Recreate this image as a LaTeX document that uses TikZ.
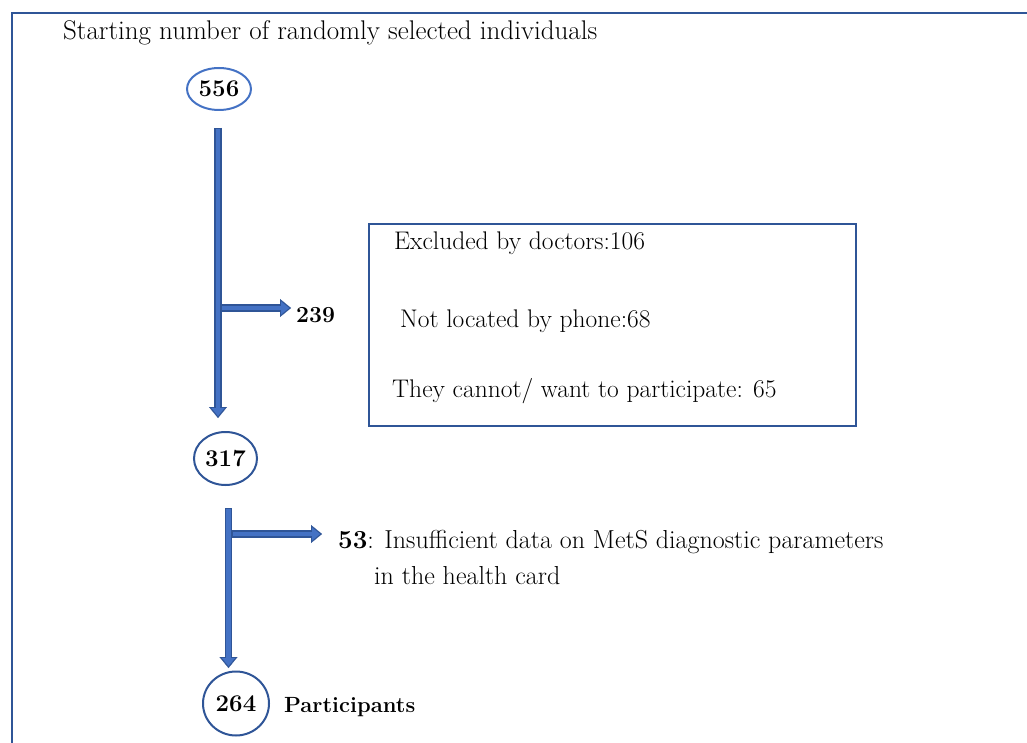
\documentclass[tikz,border=0pt]{standalone}
\usetikzlibrary{shapes.geometric,arrows.meta}
\definecolor{edgeblue}{RGB}{47,85,151}
\definecolor{lightblue}{RGB}{68,114,196}
\tikzset{
  ell/.style={ellipse, line width=2pt, inner sep=0pt, font=\fontsize{24}{28}\selectfont\bfseries},
  txt/.style={anchor=base west, inner sep=0pt},
  frame/.style={draw=edgeblue, line width=2pt},
  arrowout/.style={draw=edgeblue, line width=7.5pt, -{Triangle[width=18pt,length=11pt,line width=0.1pt]}},
  arrowin/.style={draw=lightblue, line width=4.5pt, shorten >=2pt, shorten <=1pt, -{Triangle[width=13pt,length=8pt,line width=0.1pt]}},
}
\newcommand\blockarrow[2]{%
  \draw[arrowout] (#1) -- (#2);
  \draw[arrowin] (#1) -- (#2);
}
\begin{document}
\begin{tikzpicture}[x=1pt,y=-1pt,font=\fontsize{26}{30}\selectfont]
\useasboundingbox (0,0) rectangle (1027,743);
% outer frame (left and top edges visible)
\draw[frame] (1040,13) -- (12,13) -- (12,760);

\node[txt, font=\fontsize{27}{31}\selectfont] (title) at (63,40) {Starting number of randomly selected individuals};

\node[ell, draw=lightblue, minimum width=64pt, minimum height=42pt] (n556) at (219,89) {556};
\node[ell, draw=edgeblue, minimum width=63pt, minimum height=53pt] (n317) at (225.5,458.5) {317};
\node[ell, draw=edgeblue, minimum width=66pt, minimum height=64pt] (n264) at (236,703.5) {264};

\coordinate (a1s) at (218,128);
\coordinate (a1e) at (218,418);
\coordinate (b1s) at (221,308);
\coordinate (b1e) at (291,308);
\coordinate (a2s) at (228.5,508);
\coordinate (a2e) at (228.5,668);
\coordinate (b2s) at (232,534);
\coordinate (b2e) at (322,534);

\blockarrow{b1s}{b1e}
\blockarrow{a1s}{a1e}
\blockarrow{b2s}{b2e}
\blockarrow{a2s}{a2e}

\node[txt, font=\fontsize{23}{27}\selectfont\bfseries] (t239) at (296,322) {239};

\node[draw=edgeblue, line width=2pt, minimum width=487pt, minimum height=202pt, anchor=north west, inner sep=0pt] (box) at (368,223) {};
\node[txt, font=\fontsize{25.5}{30}\selectfont] (ex1) at (394,249) {Excluded by doctors:106};
\node[txt, font=\fontsize{25.5}{30}\selectfont] (ex2) at (400,327) {Not located by phone:68};
\node[txt, font=\fontsize{25.5}{30}\selectfont] (ex3) at (392,397) {They cannot/ want to participate: 65};

\node[txt] (t53) at (338,548) {\textbf{53}: Insufficient data on MetS diagnostic parameters};
\node[txt] (t53b) at (374,584) {in the health card};

\node[txt, font=\fontsize{22}{26}\selectfont\bfseries] (part) at (284,712) {Participants};
\end{tikzpicture}
\end{document}
